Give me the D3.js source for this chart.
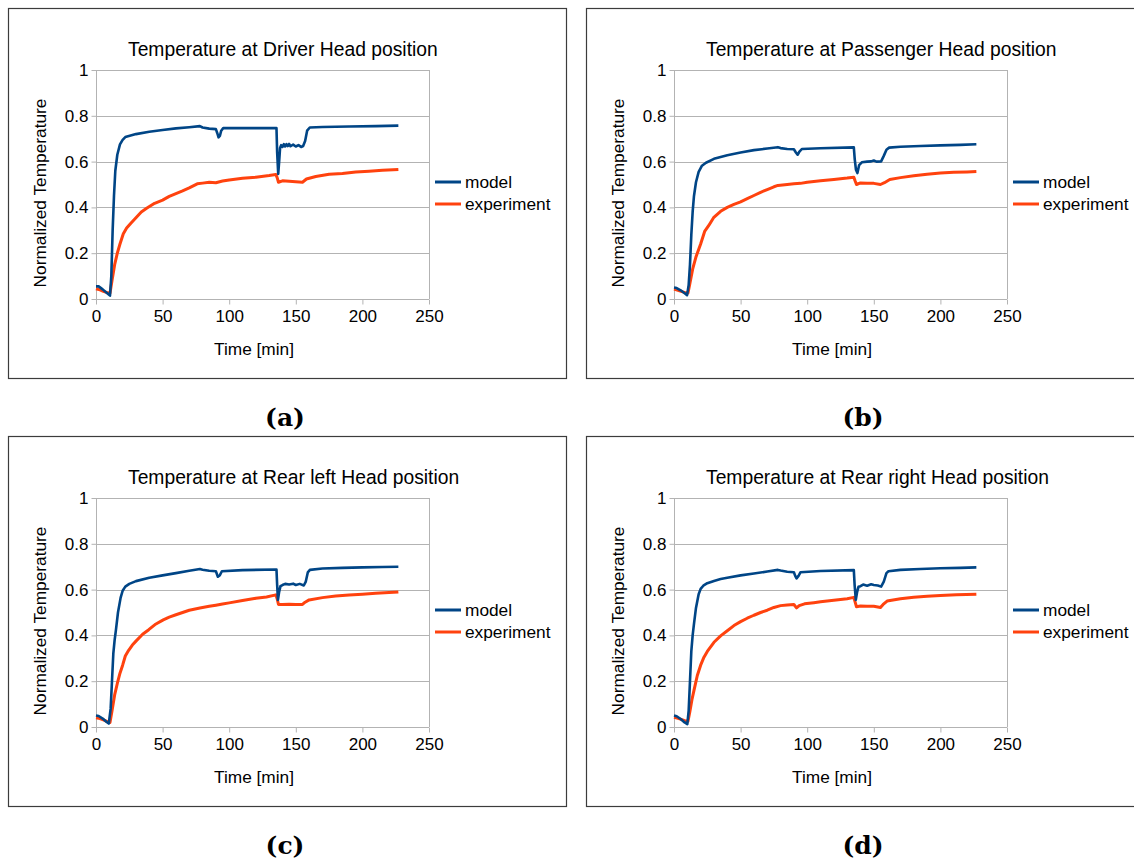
<!DOCTYPE html>
<html>
<head>
<meta charset="utf-8">
<script src="https://cdn.jsdelivr.net/npm/d3@7"></script>
<style>
  body { margin: 0; background: #fff; }
  text { font-family: "Liberation Sans", Arial, sans-serif; fill: #000; }
</style>
</head>
<body>
<div id="chart"></div>
<script>
// Data: [time (min), normalized temperature]
const xTicks = [0, 50, 100, 150, 200, 250]
const yTicks = [0, 0.2, 0.4, 0.6, 0.8, 1]
const seriesNames = ['model', 'experiment']
const panelTitles = [
  'Temperature at Driver Head position',
  'Temperature at Passenger Head position',
  'Temperature at Rear left Head position',
  'Temperature at Rear right Head position'
]
const panelLetters = ['(a)', '(b)', '(c)', '(d)']

const driverModel = [
  [0, 0.055], [2, 0.055], [5, 0.042], [8, 0.027], [10.5, 0.015], [11.5, 0.1], [12.5, 0.3],
  [13.5, 0.45], [14.5, 0.56], [16, 0.63], [18, 0.675], [20, 0.695], [22, 0.707], [30, 0.72],
  [40, 0.73], [50, 0.738], [60, 0.745], [70, 0.75], [78, 0.755], [80, 0.749], [85, 0.744],
  [90, 0.742], [91, 0.725], [92, 0.706], [93, 0.712], [94, 0.735], [95.5, 0.746], [110, 0.746],
  [135.5, 0.746], [136, 0.64], [136.8, 0.546], [137.5, 0.6], [138.2, 0.66], [139, 0.672],
  [140, 0.664], [141, 0.676], [142, 0.666], [143, 0.676], [144, 0.668], [145, 0.677],
  [146, 0.667], [148, 0.674], [150, 0.666], [152, 0.672], [154, 0.664], [155.5, 0.668],
  [157, 0.69], [158.5, 0.735], [160.5, 0.749], [170, 0.751], [190, 0.753], [210, 0.755], [227, 0.757]
]
const driverExp = [
  [0, 0.045], [3, 0.04], [6, 0.032], [9, 0.027], [10.5, 0.025], [12, 0.08], [14, 0.15],
  [16, 0.2], [18, 0.24], [20.5, 0.285], [23, 0.31], [26, 0.33], [30, 0.355], [34, 0.38],
  [38, 0.396], [44, 0.418], [50, 0.432], [55, 0.448], [60, 0.46], [65, 0.472], [70, 0.485],
  [76, 0.503], [80, 0.506], [85, 0.51], [90, 0.508], [95, 0.515], [100, 0.52], [110, 0.527],
  [120, 0.532], [130, 0.539], [135, 0.544], [136, 0.53], [137, 0.51], [140, 0.516], [145, 0.514],
  [150, 0.512], [155, 0.51], [158, 0.524], [165, 0.535], [175, 0.545], [185, 0.548],
  [195, 0.555], [205, 0.558], [215, 0.562], [227, 0.566]
]

const passengerModel = [
  [0, 0.05], [2, 0.048], [5, 0.038], [8, 0.025], [9.8, 0.017], [11, 0.06], [12, 0.15],
  [13, 0.28], [14, 0.38], [15, 0.45], [16.5, 0.51], [18.5, 0.555], [21, 0.582], [24, 0.595],
  [30, 0.612], [40, 0.628], [50, 0.64], [60, 0.65], [70, 0.657], [78, 0.663], [80, 0.659],
  [85, 0.655], [90, 0.654], [91.5, 0.64], [92.8, 0.63], [94, 0.642], [96, 0.655], [110, 0.658],
  [135, 0.662], [135.7, 0.61], [136.6, 0.565], [137.7, 0.55], [139, 0.585], [141, 0.597],
  [145, 0.6], [148, 0.601], [150, 0.605], [152, 0.6], [155.5, 0.601], [157.5, 0.625],
  [159.5, 0.652], [161.5, 0.661], [170, 0.665], [185, 0.668], [200, 0.671], [215, 0.673], [227, 0.676]
]
const passengerExp = [
  [0, 0.043], [3, 0.038], [6, 0.032], [9, 0.027], [10.5, 0.026], [12, 0.07], [14, 0.13],
  [16.5, 0.184], [20, 0.24], [23, 0.295], [26, 0.32], [29.7, 0.355], [35, 0.383], [40, 0.4],
  [45, 0.413], [50, 0.424], [55, 0.438], [60, 0.452], [65, 0.466], [70, 0.478], [75, 0.49],
  [78, 0.496], [85, 0.5], [90, 0.503], [95, 0.505], [100, 0.51], [110, 0.516], [120, 0.522],
  [130, 0.528], [135, 0.532], [136, 0.515], [137, 0.5], [140, 0.507], [145, 0.505],
  [150, 0.505], [155, 0.5], [158, 0.508], [162, 0.522], [170, 0.53], [180, 0.538],
  [190, 0.545], [200, 0.55], [210, 0.553], [220, 0.555], [227, 0.557]
]

const rearLeftModel = [
  [0, 0.05], [2, 0.048], [5, 0.037], [8, 0.022], [9.6, 0.015], [11, 0.08], [12, 0.2],
  [13, 0.32], [14, 0.38], [15, 0.425], [16.5, 0.5], [18.5, 0.565], [20, 0.595], [22, 0.613],
  [25, 0.625], [30, 0.637], [40, 0.652], [50, 0.662], [60, 0.672], [70, 0.682], [78, 0.69],
  [80, 0.687], [85, 0.682], [90, 0.68], [91.5, 0.656], [93, 0.663], [94.5, 0.68], [110, 0.685],
  [135.5, 0.688], [136, 0.62], [136.6, 0.555], [137.5, 0.59], [138.5, 0.615], [140, 0.62],
  [142, 0.625], [145, 0.622], [148, 0.626], [150, 0.62], [153, 0.625], [156, 0.618],
  [157.5, 0.635], [159, 0.675], [160.6, 0.686], [170, 0.692], [185, 0.695], [200, 0.697],
  [215, 0.699], [227, 0.7]
]
const rearLeftExp = [
  [0, 0.04], [3, 0.037], [6, 0.03], [9, 0.022], [10.5, 0.02], [12, 0.07], [14, 0.14],
  [16, 0.19], [18, 0.235], [20, 0.27], [22, 0.31], [24.5, 0.335], [27.3, 0.358], [30, 0.375],
  [35, 0.405], [39.6, 0.425], [45, 0.45], [50.5, 0.468], [55, 0.48], [60, 0.49], [65, 0.5],
  [70, 0.51], [78, 0.52], [85, 0.527], [90, 0.532], [95, 0.537], [100, 0.542], [110, 0.552],
  [120, 0.562], [128, 0.568], [135, 0.577], [136, 0.56], [137, 0.535], [140, 0.535],
  [145, 0.536], [150, 0.535], [155, 0.535], [157, 0.545], [160, 0.555], [170, 0.565],
  [180, 0.572], [190, 0.576], [200, 0.58], [210, 0.584], [220, 0.587], [227, 0.59]
]

const rearRightModel = [
  [0, 0.05], [2, 0.047], [5, 0.035], [8, 0.02], [10, 0.013], [11, 0.07], [12, 0.2],
  [13, 0.33], [14, 0.4], [15, 0.45], [16.5, 0.52], [18.5, 0.58], [20, 0.603], [22, 0.617],
  [25, 0.628], [30, 0.638], [35, 0.646], [40, 0.652], [50, 0.662], [60, 0.67], [70, 0.679],
  [78, 0.686], [80, 0.683], [85, 0.678], [90, 0.676], [91, 0.66], [92, 0.649], [93.5, 0.66],
  [95, 0.676], [110, 0.681], [135, 0.685], [135.6, 0.62], [136.5, 0.555], [137.5, 0.59],
  [138.5, 0.612], [140, 0.615], [142, 0.622], [145, 0.617], [148, 0.623], [150, 0.62],
  [153, 0.618], [155.5, 0.613], [157.5, 0.635], [159.5, 0.672], [161, 0.68], [170, 0.686],
  [185, 0.69], [200, 0.693], [215, 0.695], [227, 0.697]
]
const rearRightExp = [
  [0, 0.042], [3, 0.038], [6, 0.032], [9, 0.026], [10.5, 0.025], [12, 0.07], [13.5, 0.12],
  [15, 0.16], [17.5, 0.225], [20, 0.27], [22.5, 0.305], [25, 0.33], [30, 0.37], [35, 0.398],
  [40, 0.42], [45, 0.443], [50, 0.46], [55, 0.475], [60, 0.488], [65, 0.5], [70, 0.51],
  [75, 0.522], [80, 0.53], [85, 0.533], [90, 0.535], [92, 0.52], [94, 0.53], [98, 0.538],
  [105, 0.543], [110, 0.547], [120, 0.553], [130, 0.56], [135, 0.566], [136, 0.545],
  [137, 0.525], [140, 0.528], [145, 0.527], [150, 0.527], [155, 0.522], [157, 0.535],
  [160, 0.55], [170, 0.56], [180, 0.567], [190, 0.571], [200, 0.574], [212, 0.577], [227, 0.58]
]

const panelData = [
  [driverModel, driverExp],
  [passengerModel, passengerExp],
  [rearLeftModel, rearLeftExp],
  [rearRightModel, rearRightExp]
]
const colors = ['#004586', '#ff420e']

// Dimensions
const width = 1134
const height = 860
const panelOrigins = [[8, 8], [586, 8], [8, 436], [586, 436]]
const box = { width: 558, height: 370 }
const plot = { left: 88, top: 62, width: 333, height: 229 }

const svg = d3.select('#chart')
  .append('svg')
  .attr('width', width)
  .attr('height', height)

const xScale = d3.scaleLinear().domain([0, 250]).range([0, plot.width])
const yScale = d3.scaleLinear().domain([0, 1]).range([plot.height, 0])

const line = d3.line()
  .x(d => xScale(d[0]))
  .y(d => yScale(d[1]))

panelData.forEach((series, i) => {
  const [ox, oy] = panelOrigins[i]
  const panel = svg.append('g').attr('transform', `translate(${ox}, ${oy})`)

  panel.append('rect')
    .attr('x', 0.5).attr('y', 0.5)
    .attr('width', box.width).attr('height', box.height)
    .attr('fill', 'none')
    .attr('stroke', '#3c3c3c')
    .attr('stroke-width', 1.2)

  panel.append('text')
    .attr('x', 120).attr('y', 48)
    .attr('font-size', 19.3)
    .text(panelTitles[i])

  const ctr = panel.append('g')
    .attr('transform', `translate(${plot.left}, ${plot.top})`)

  // Gridlines
  ctr.append('g')
    .selectAll('line')
    .data(yTicks.slice(1))
    .join('line')
    .attr('x1', 0).attr('x2', plot.width)
    .attr('y1', d => Math.round(yScale(d)) + 0.5)
    .attr('y2', d => Math.round(yScale(d)) + 0.5)
    .attr('stroke', '#b3b3b3')

  ctr.append('line')
    .attr('x1', plot.width + 0.5).attr('x2', plot.width + 0.5)
    .attr('y1', 0).attr('y2', plot.height)
    .attr('stroke', '#b3b3b3')

  // Axes
  const xAxis = d3.axisBottom(xScale)
    .tickValues(xTicks)
    .tickSize(5)
    .tickPadding(5)
  const xAxisGroup = ctr.append('g')
    .attr('transform', `translate(0, ${plot.height + 0.5})`)
    .call(xAxis)
  xAxisGroup.select('.domain').attr('stroke', '#b3b3b3').attr('d', `M0,0H${plot.width}`)
  xAxisGroup.selectAll('.tick line').attr('stroke', '#b3b3b3')
  xAxisGroup.selectAll('.tick text')
    .style('font-size', '17px')
    .attr('fill', '#000')

  const yAxis = d3.axisLeft(yScale)
    .tickValues(yTicks)
    .tickFormat(d3.format('~g'))
    .tickSize(5)
    .tickPadding(3)
  const yAxisGroup = ctr.append('g')
    .attr('transform', 'translate(0.5, 0)')
    .call(yAxis)
  yAxisGroup.select('.domain').attr('stroke', '#b3b3b3').attr('d', `M0,0V${plot.height}`)
  yAxisGroup.selectAll('.tick line').attr('stroke', '#b3b3b3')
  yAxisGroup.selectAll('.tick text')
    .style('font-size', '17px')
    .attr('fill', '#000')

  // Lines (experiment drawn first so model sits on top)
  ;[1, 0].forEach(s => {
    ctr.append('path')
      .datum(series[s])
      .attr('fill', 'none')
      .attr('stroke', colors[s])
      .attr('stroke-width', s === 0 ? 2.6 : 3)
      .attr('stroke-linejoin', 'round')
      .attr('d', line)
  })

  // Axis labels
  panel.append('text')
    .attr('x', 246).attr('y', 347)
    .attr('text-anchor', 'middle')
    .attr('font-size', 17.3)
    .text('Time [min]')

  panel.append('text')
    .attr('transform', 'translate(38, 185) rotate(-90)')
    .attr('text-anchor', 'middle')
    .attr('font-size', 17.3)
    .text('Normalized Temperature')

  // Legend
  const legend = panel.append('g')
  seriesNames.forEach((name, s) => {
    const ly = 174 + s * 22
    legend.append('line')
      .attr('x1', 427).attr('x2', 453)
      .attr('y1', ly).attr('y2', ly)
      .attr('stroke', colors[s])
      .attr('stroke-width', 3)
    legend.append('text')
      .attr('x', 457).attr('y', ly + 6)
      .attr('font-size', 17.3)
      .text(name)
  })

  // Sub-figure letter
  panel.append('text')
    .attr('x', 277).attr('y', 418)
    .attr('text-anchor', 'middle')
    .style('font-family', '"DejaVu Serif", serif')
    .style('font-weight', 'bold')
    .style('font-size', '25px')
    .text(panelLetters[i])
})
</script>
</body>
</html>
